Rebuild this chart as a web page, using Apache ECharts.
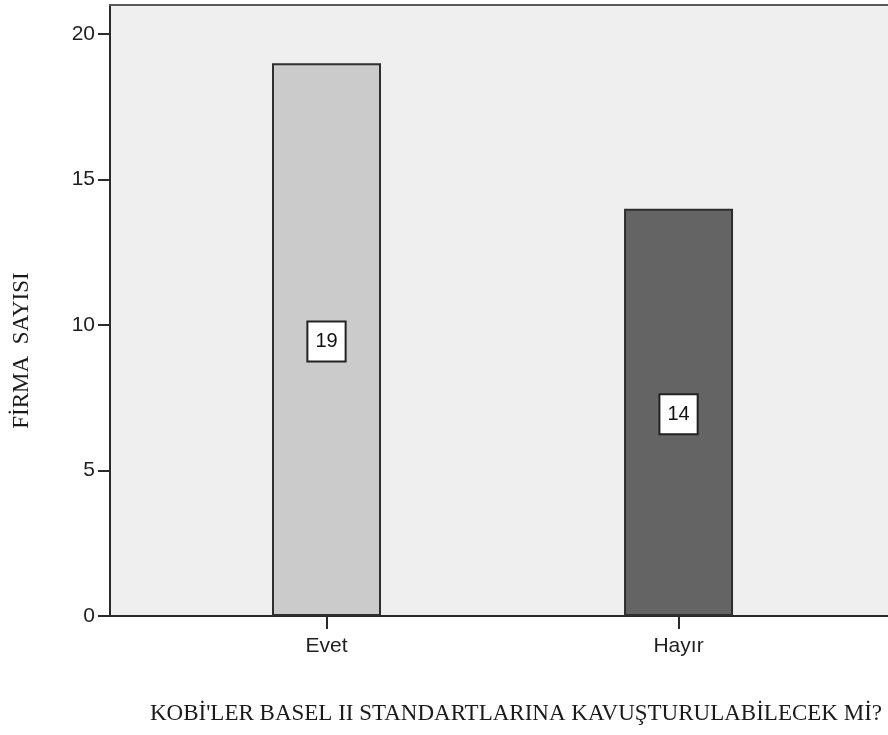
<!DOCTYPE html>
<html>
<head>
<meta charset="utf-8">
<script src="https://cdn.jsdelivr.net/npm/echarts@6/dist/echarts.min.js"></script>
<style>
  html, body { margin: 0; padding: 0; background: #ffffff; }
  #chart { width: 888px; height: 735px; }
</style>
</head>
<body>
<div id="chart"></div>
<script>
// Answer categories and number of firms per answer
const categories = ['Evet', 'Hayır'];
const firmCounts = [19, 14];
const yTicks = [0, 5, 10, 15, 20];
const xTitle = 'KOBİ\'LER BASEL II STANDARTLARINA KAVUŞTURULABİLECEK Mİ?';
const yTitle = 'FİRMA  SAYISI';

// Fill for each bar, in category order
const barFills = ['#cbcbcb', '#646464'];

const positions = categories.map((c, i) => i + 1);

const chart = echarts.init(document.getElementById('chart'), null, { renderer: 'canvas' });

chart.setOption({
  backgroundColor: '#ffffff',
  animation: false,
  grid: {
    left: 110,
    top: 5,
    right: 0,
    height: 611,
    show: true,
    backgroundColor: '#efefef',
    borderWidth: 0
  },
  xAxis: [{
    type: 'value',
    min: 0.385,
    max: 2.595,
    name: xTitle,
    nameLocation: 'middle',
    nameGap: 86,
    nameTextStyle: {
      fontFamily: '"Liberation Serif", "DejaVu Serif", serif',
      fontSize: 23,
      color: '#1a1a1a',
      padding: [0, 0, 0, 34]
    },
    axisLine: { show: true, onZero: false, lineStyle: { color: '#2a2a2a', width: 2 } },
    axisTick: {
      show: true,
      length: 13,
      customValues: positions,
      lineStyle: { color: '#2a2a2a', width: 2 }
    },
    axisLabel: {
      customValues: positions,
      margin: 20,
      fontFamily: '"Liberation Sans", Arial, sans-serif',
      fontSize: 21,
      color: '#1e1e1e',
      formatter: v => categories[Math.round(v) - 1] || ''
    },
    splitLine: { show: false }
  }, {
    // top edge of the plot frame
    type: 'value',
    position: 'top',
    min: 0,
    max: 1,
    axisLine: { show: true, onZero: false, lineStyle: { color: '#5a5a5a', width: 2 } },
    axisTick: { show: false },
    axisLabel: { show: false },
    splitLine: { show: false }
  }],
  yAxis: {
    type: 'value',
    min: 0,
    max: 21,
    name: yTitle,
    nameLocation: 'middle',
    nameGap: 77,
    nameRotate: 90,
    nameTextStyle: {
      fontFamily: '"Liberation Serif", "DejaVu Serif", serif',
      fontSize: 23,
      color: '#1a1a1a',
      padding: [0, 80, 0, 0]
    },
    axisLine: { show: true, lineStyle: { color: '#2a2a2a', width: 2 } },
    axisTick: {
      show: true,
      length: 12,
      customValues: yTicks,
      lineStyle: { color: '#2a2a2a', width: 2 }
    },
    axisLabel: {
      customValues: yTicks,
      margin: 15,
      fontFamily: '"Liberation Sans", Arial, sans-serif',
      fontSize: 21,
      color: '#1e1e1e'
    },
    splitLine: { show: false }
  },
  series: [{
    type: 'bar',
    xAxisIndex: 0,
    barWidth: 109,
    data: firmCounts.map((v, i) => ({
      value: [positions[i], v],
      itemStyle: { color: barFills[i] }
    })),
    itemStyle: { borderColor: '#2e2e2e', borderWidth: 2 },
    label: {
      show: true,
      position: 'inside',
      offset: [0, 2],
      formatter: p => String(p.value[1]),
      fontFamily: '"Liberation Sans", Arial, sans-serif',
      fontSize: 20,
      color: '#111111',
      backgroundColor: '#ffffff',
      borderColor: '#222222',
      borderWidth: 2,
      lineHeight: 22,
      padding: [8, 7, 8, 7]
    }
  }]
});
</script>
</body>
</html>
